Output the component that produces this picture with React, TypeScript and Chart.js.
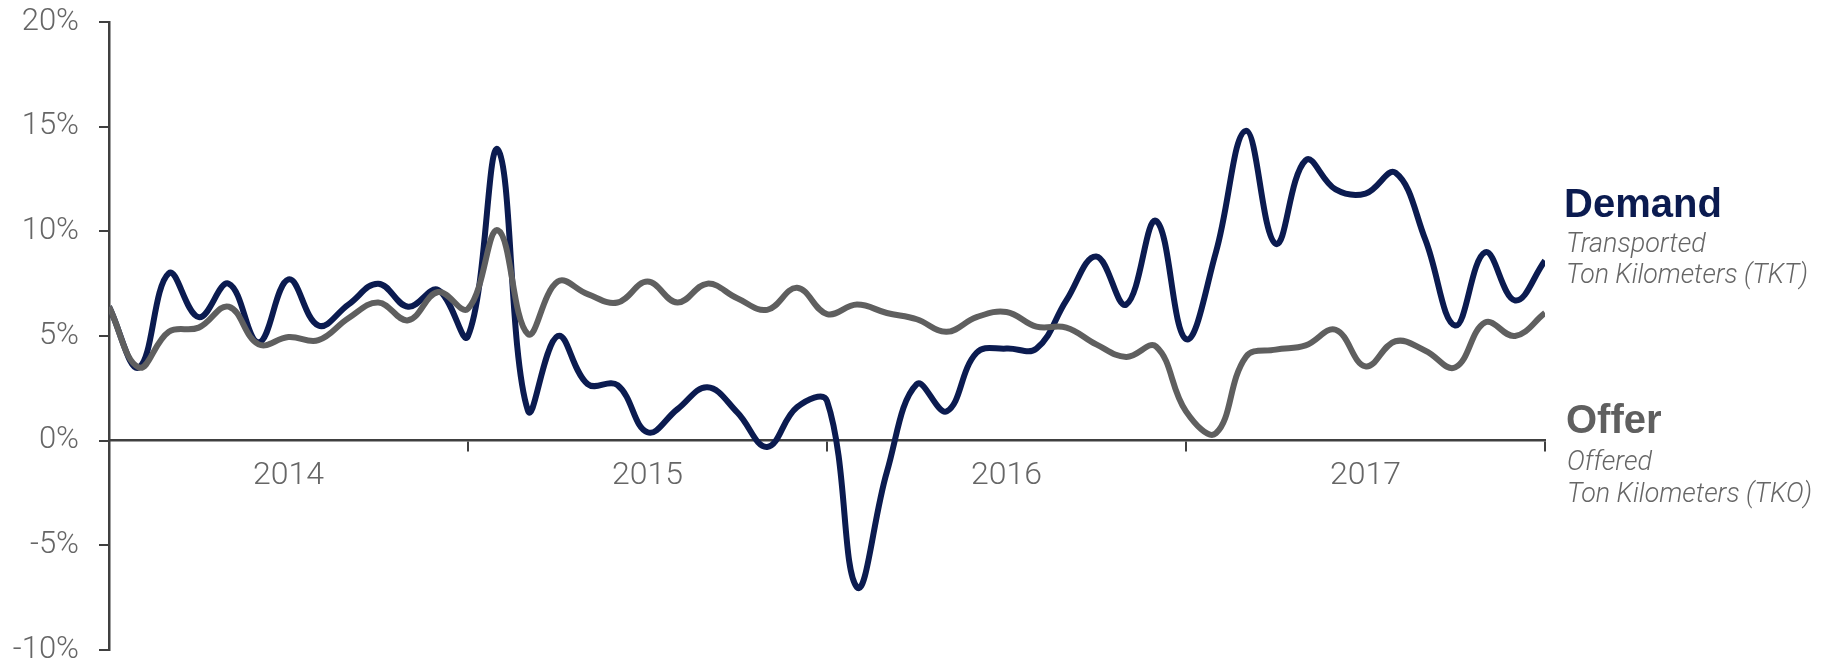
import React, { useEffect, useRef } from "react";
import { Chart, registerables } from "chart.js";

Chart.register(...registerables);

// month index from Jan 2014 (0) to Jan 2018 (48)
const monthIndex = [
  0, 1, 2, 3, 4, 5, 6, 7, 8, 9, 10, 11,
  12, 13, 14, 15, 16, 17, 18, 19, 20, 21, 22, 23,
  24, 25, 26, 27, 28, 29, 30, 31, 32, 33, 34, 35,
  36, 37, 38, 39, 40, 41, 42, 43, 44, 45, 46, 47, 48,
];

const yearLabels = ["2014", "2015", "2016", "2017"];
const yearTickMonths = [0, 12, 24, 36, 48];
const yearLabelMonths = [6, 18, 30, 42];

// Demand – Transported Ton Kilometers (TKT), YoY %
const demand = [
  6.4, 3.5, 8.0, 5.9, 7.5, 4.7, 7.7, 5.5, 6.5, 7.5, 6.4, 7.2,
  5.0, 13.9, 1.45, 5.0, 2.7, 2.65, 0.4, 1.5, 2.55, 1.35, -0.3, 1.6,
  1.9, -7.0, -1.5, 2.7, 1.4, 4.2, 4.4, 4.4, 6.7, 8.8, 6.5, 10.5,
  4.85, 9.0, 14.8, 9.4, 13.4, 12.0, 11.8, 12.8, 9.6, 5.5, 9.0, 6.7, 8.6,
];

// Offer – Offered Ton Kilometers (TKO), YoY %
const offer = [
  6.4, 3.5, 5.2, 5.4, 6.4, 4.6, 4.95, 4.8, 5.85, 6.6, 5.75, 7.1,
  6.3, 10.05, 5.1, 7.6, 7.0, 6.6, 7.6, 6.6, 7.5, 6.8, 6.25, 7.3,
  6.05, 6.5, 6.1, 5.8, 5.2, 5.9, 6.15, 5.45, 5.4, 4.6, 4.0, 4.5,
  1.4, 0.35, 4.0, 4.35, 4.55, 5.3, 3.55, 4.75, 4.3, 3.5, 5.65, 5.0, 6.1,
];

const yMin = -10;
const yMax = 20;
const yStep = 5;

const NAVY = "#0b1b50";
const GRAY = "#5f5f5f";
const AXIS = "#404040";
const LABEL = "#666666";

const annotationPlugin = {
  id: "sideAnnotations",
  afterDraw(chart: any) {
    const ctx = chart.ctx;
    ctx.save();
    ctx.textAlign = "left";
    ctx.textBaseline = "alphabetic";
    ctx.font = "bold 40px 'Liberation Sans', Arial, sans-serif";
    ctx.fillStyle = NAVY;
    ctx.fillText("Demand", 1564, 217, 164);
    ctx.fillStyle = GRAY;
    ctx.fillText("Offer", 1566, 433, 100);
    ctx.font = "italic 300 27px Roboto, 'Noto Sans', sans-serif";
    ctx.fillStyle = LABEL;
    ctx.fillText("Transported", 1566, 252, 143);
    ctx.fillText("Ton Kilometers (TKT)", 1566, 283, 242);
    ctx.fillText("Offered", 1567, 470, 92);
    ctx.fillText("Ton Kilometers (TKO)", 1567, 502, 245);
    ctx.restore();
  },
};

export default function App() {
  const canvasRef = useRef<HTMLCanvasElement | null>(null);

  useEffect(() => {
    const canvas = canvasRef.current;
    if (!canvas) return;
    const chart = new Chart(canvas, {
      type: "line",
      data: {
        datasets: [
          {
            label: "Offer",
            data: monthIndex.map((m, i) => ({ x: m, y: offer[i] })),
            borderColor: GRAY,
            borderWidth: 6,
            pointRadius: 0,
            tension: 0.4,
            fill: false,
            order: 0,
          },
          {
            label: "Demand",
            data: monthIndex.map((m, i) => ({ x: m, y: demand[i] })),
            borderColor: NAVY,
            borderWidth: 6,
            pointRadius: 0,
            tension: 0.4,
            fill: false,
            order: 1,
          },
        ],
      },
      options: {
        responsive: false,
        animation: false,
        devicePixelRatio: 1,
        layout: {
          autoPadding: false,
          padding: { left: 0, right: 290, top: 22, bottom: 21 },
        },
        plugins: {
          legend: { display: false },
          tooltip: { enabled: false },
        },
        scales: {
          x: {
            type: "linear",
            position: { y: 0 },
            min: 0,
            max: 48,
            afterBuildTicks: (scale: any) => {
              const vals = [...yearTickMonths, ...yearLabelMonths].sort((a, b) => a - b);
              scale.ticks = vals.map((v) => ({ value: v }));
            },
            afterFit: (scale: any) => {
              scale.height = 0;
              scale.paddingLeft = 0;
              scale.paddingRight = 0;
            },
            ticks: {
              autoSkip: false,
              maxRotation: 0,
              padding: 6,
              color: LABEL,
              font: { family: "Roboto", size: 32, weight: "300" },
              callback: (v: any) => {
                const idx = yearLabelMonths.indexOf(Number(v));
                return idx >= 0 ? yearLabels[idx] : "";
              },
            },
            grid: {
              drawOnChartArea: false,
              drawTicks: true,
              tickLength: 10,
              lineWidth: 2,
              color: (ctx: any) =>
                ctx.tick && yearTickMonths.includes(ctx.tick.value) ? AXIS : "rgba(0,0,0,0)",
            },
            border: { display: true, color: AXIS, width: 2.5 },
          },
          y: {
            type: "linear",
            min: yMin,
            max: yMax,
            afterFit: (scale: any) => {
              scale.width = 109;
              scale.paddingTop = 0;
              scale.paddingBottom = 0;
            },
            ticks: {
              stepSize: yStep,
              padding: 20,
              color: LABEL,
              font: { family: "Roboto", size: 31, weight: "300" },
              callback: (v: any) => `${v}%`,
            },
            grid: {
              drawOnChartArea: false,
              drawTicks: true,
              tickLength: 10,
              lineWidth: 2,
              color: AXIS,
            },
            border: { display: true, color: AXIS, width: 2.5 },
          },
        },
      },
      plugins: [annotationPlugin],
    });
    return () => chart.destroy();
  }, []);

  return (
    <div style={{ position: "fixed", left: 0, top: 0, width: 1835, height: 671, background: "#fff" }}>
      <canvas ref={canvasRef} width={1835} height={671} style={{ width: 1835, height: 671, display: "block" }} />
    </div>
  );
}
